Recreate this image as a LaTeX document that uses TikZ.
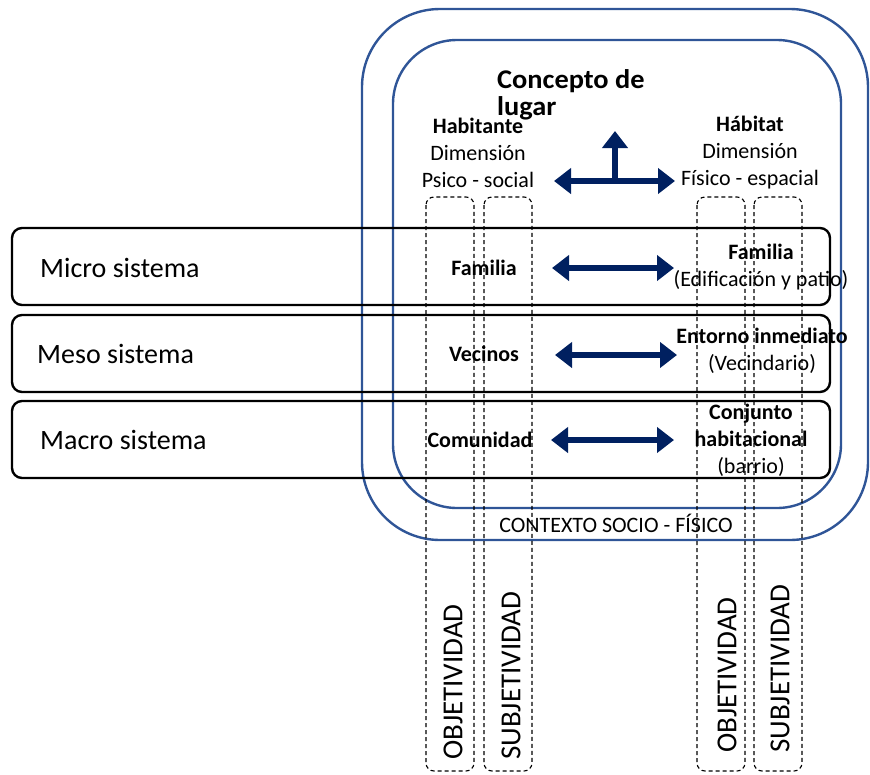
\documentclass[tikz,border=0pt]{standalone}
\usepackage{fontspec}
\setmainfont{Carlito}
\usepackage{tikz}
\usetikzlibrary{arrows.meta}
\definecolor{ringblue}{RGB}{47,85,151}
\definecolor{navyarrow}{RGB}{0,32,96}

\begin{document}
\begin{tikzpicture}[x=1pt,y=-1pt,line join=round,
  ring/.style={draw=ringblue,line width=2.4pt,rounded corners=#1},
  band/.style={draw=black,line width=2.4pt,rounded corners=10pt},
  dcol/.style={draw=black,line width=1.1pt,dash pattern=on 4pt off 3pt,rounded corners=8pt},
  link/.style={navyarrow,line width=6.5pt,{Triangle[length=17pt,width=25pt]}-{Triangle[length=17pt,width=25pt]}},
  rise/.style={navyarrow,line width=6pt,-{Triangle[length=17pt,width=25pt]}},
  txt/.style={font=\fontsize{22}{27}\selectfont,align=center,inner sep=0pt},
  sys/.style={font=\fontsize{28}{32}\selectfont,anchor=west,inner sep=0pt},
  vlab/.style={font=\fontsize{29}{34}\selectfont,rotate=90,anchor=west,inner sep=0pt}]
\useasboundingbox (0,0) rectangle (870,774);
% context rings
\draw[ring=78pt] (362,9) rectangle (868,540);
\draw[ring=64pt] (393,40) rectangle (841,508);
% system bands
\foreach \t in {228,315,401}
  \draw[band] (12,\t) rectangle (830,\t+77);
% objectivity / subjectivity columns
\foreach \l in {426,484,697,754}
  \draw[dcol] (\l,197) rectangle (\l+48,771);

\node[txt,anchor=north west,align=left,font=\bfseries\fontsize{27}{27}\selectfont,xscale=1.05] (concepto) at (497,69) {Concepto de\\lugar};
\node[txt] (habitante) at (478,153) {\textbf{Habitante}\\Dimensión\\Psico - social};
\node[txt] (habitat) at (750,153) {\textbf{Hábitat}\\Dimensión\\Físico - espacial};

\node[sys] (micro) at (40,268) {Micro sistema};
\node[sys] (meso) at (37,354) {Meso sistema};
\node[sys] (macro) at (40,440) {Macro sistema};

\node[txt,font=\bfseries\fontsize{22}{27}\selectfont] (familiaA) at (484,268) {Familia};
\node[txt,font=\bfseries\fontsize{22}{27}\selectfont] (vecinos) at (484,354) {Vecinos};
\node[txt,font=\bfseries\fontsize{22}{27}\selectfont] (comunidad) at (480,440) {Comunidad};
\node[txt] (familiaB) at (761,267) {\textbf{Familia}\\(Edificación y patio)};
\node[txt] (entorno) at (762,351) {\textbf{Entorno inmediato}\\(Vecindario)};
\node[txt] (conjunto) at (751,440) {\textbf{Conjunto}\\\textbf{habitacional}\\(barrio)};

\node[txt] (contexto) at (616,523) {CONTEXTO SOCIO - FÍSICO};

\node[vlab] (objA) at (453,760) {OBJETIVIDAD};
\node[vlab] (subjA) at (511,760) {SUBJETIVIDAD};
\node[vlab] (objB) at (727,753) {OBJETIVIDAD};
\node[vlab] (subjB) at (780,753) {SUBJETIVIDAD};

% arrows
\coordinate (topL) at (554,181);
\coordinate (topR) at (675,181);
\coordinate (topM) at (615,183);
\coordinate (topU) at (615,131);
\coordinate (microL) at (552,268);
\coordinate (microR) at (674,268);
\coordinate (mesoL) at (555,355);
\coordinate (mesoR) at (677,355);
\coordinate (macroL) at (551,440);
\coordinate (macroR) at (674,440);
\draw[rise] (topM) -- (topU);
\draw[link] (topL) -- (topR);
\draw[link] (microL) -- (microR);
\draw[link] (mesoL) -- (mesoR);
\draw[link] (macroL) -- (macroR);
\end{tikzpicture}
\end{document}
